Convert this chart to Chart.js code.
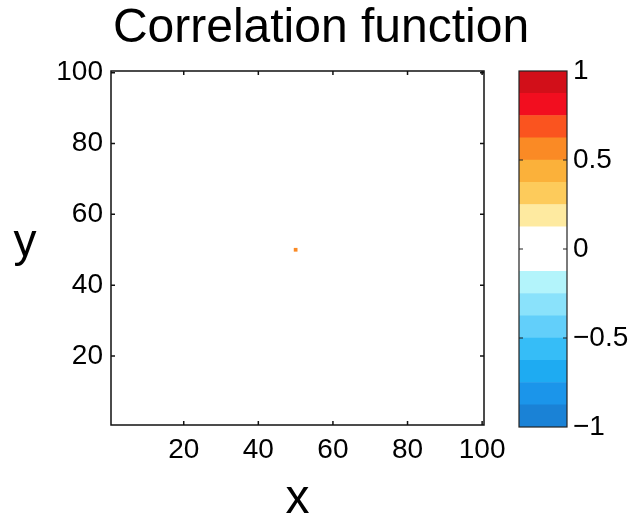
<!DOCTYPE html>
<html>
<head>
<meta charset="utf-8">
<script src="https://cdn.jsdelivr.net/npm/chart.js@4.4.0/dist/chart.umd.min.js"></script>
<style>
  html, body { margin: 0; padding: 0; background: #fff; overflow: hidden; }
  #wrap { position: relative; width: 632px; height: 515px; }
  #main { position: absolute; left: 0; top: 0; }
  #bar { position: absolute; left: 505px; top: 0; }
</style>
</head>
<body>
<div id="wrap">
  <canvas id="main" width="632" height="515"></canvas>
  <canvas id="bar" width="127" height="515"></canvas>
</div>
<script>
// data
const xTicks = [20, 40, 60, 80, 100];
const yTicks = [20, 40, 60, 80, 100];
const cellX = [50];
const cellY = [50];
const cellV = [0.6];
const levels = [-1, -0.875, -0.75, -0.625, -0.5, -0.375, -0.25, -0.125, 0,
  0.125, 0.25, 0.375, 0.5, 0.625, 0.75, 0.875, 1];
const levelColors = ['#1a82d6', '#1b95ea', '#1eabf2', '#36bdf7', '#62cffa', '#8ae2fb', '#b3f4fb', '#ffffff',
  '#ffffff', '#feeaa0', '#fdcb5b', '#fbb13a', '#fa8a25', '#fa541f', '#f20e1f', '#d20f19'];
const cbTicks = [-1, -0.5, 0, 0.5, 1];

const family = "'Liberation Sans', Arial, sans-serif";

function colorFor(v) {
  for (let i = 0; i < levelColors.length; i++) {
    if (v <= levels[i + 1]) return levelColors[i];
  }
  return levelColors[levelColors.length - 1];
}

// one matrix cell = 1 unit on the x scale
const cellRadius = ctx => {
  const s = ctx.chart.scales.x;
  return Math.abs(s.getPixelForValue(1) - s.getPixelForValue(0)) / 2 / Math.SQRT1_2;
};

// box round the axes, with inner tick marks on every side
const boxPlugin = {
  id: 'box',
  afterDraw(chart, args, opts) {
    const { ctx, chartArea: a } = chart;
    const L = 4;
    ctx.save();
    ctx.strokeStyle = opts.color || '#000';
    ctx.lineWidth = opts.lineWidth || 1;
    ctx.beginPath();
    (opts.xTicks || []).forEach(v => {
      const p = chart.scales.x.getPixelForValue(v);
      ctx.moveTo(p, a.bottom); ctx.lineTo(p, a.bottom - L);
      ctx.moveTo(p, a.top); ctx.lineTo(p, a.top + L);
    });
    (opts.yTicks || []).forEach(v => {
      const p = chart.scales.y.getPixelForValue(v);
      ctx.moveTo(a.left, p); ctx.lineTo(a.left + L, p);
      ctx.moveTo(a.right, p); ctx.lineTo(a.right - L, p);
    });
    ctx.stroke();
    ctx.strokeRect(a.left, a.top, a.width, a.height);
    ctx.restore();
  }
};

// upright "y" label, as in the original
const yLabelPlugin = {
  id: 'ylabel',
  afterDraw(chart) {
    const { ctx, chartArea: a } = chart;
    ctx.save();
    ctx.fillStyle = '#000';
    ctx.font = '46px ' + family;
    ctx.textAlign = 'center';
    ctx.textBaseline = 'alphabetic';
    ctx.fillText('y', 25, (a.top + a.bottom) / 2 + 8);
    ctx.restore();
  }
};

new Chart(document.getElementById('main'), {
  type: 'scatter',
  data: {
    datasets: [{
      data: cellX.map((x, i) => ({ x: x, y: cellY[i], v: cellV[i] })),
      pointStyle: 'rect',
      pointRadius: cellRadius,
      pointHoverRadius: cellRadius,
      pointBorderWidth: 0,
      pointBackgroundColor: ctx => colorFor(cellV[ctx.dataIndex]),
    }]
  },
  options: {
    responsive: false,
    animation: false,
    layout: { padding: { left: 10, top: 0, right: 0, bottom: 0 } },
    plugins: {
      legend: { display: false },
      tooltip: { enabled: false },
      title: {
        display: true,
        text: 'Correlation function',
        color: '#000',
        font: { family: family, size: 48, weight: 'normal' },
        padding: { top: 0, bottom: 13.4 }
      },
      box: { xTicks: xTicks, yTicks: yTicks, lineWidth: 1.5, color: '#111' }
    },
    scales: {
      x: {
        type: 'linear',
        min: 0.5,
        max: 100.5,
        afterBuildTicks: s => { s.ticks = xTicks.map(v => ({ value: v })); },
        afterFit: s => { s.height = 90; },
        grid: { display: false, drawTicks: false },
        border: { display: false },
        ticks: { color: '#000', font: { family: family, size: 28 }, padding: 8, maxRotation: 0, autoSkip: false },
        title: { display: true, text: 'x', color: '#000', padding: 0,
          font: { family: family, size: 48, lineHeight: 0.62 } }
      },
      y: {
        type: 'linear',
        min: 0.5,
        max: 100.5,
        afterBuildTicks: s => { s.ticks = yTicks.map(v => ({ value: v })); },
        afterFit: s => { s.width = 101; },
        grid: { display: false, drawTicks: false },
        border: { display: false },
        ticks: { color: '#000', font: { family: family, size: 28 }, padding: 8, autoSkip: false }
      },
      // empty axis that keeps room for the colour bar
      r: {
        type: 'linear',
        position: 'right',
        afterFit: s => { s.width = 148; },
        grid: { display: false, drawTicks: false },
        border: { display: false },
        ticks: { display: false }
      }
    }
  },
  plugins: [boxPlugin, yLabelPlugin]
});

// colour bar
new Chart(document.getElementById('bar'), {
  type: 'bar',
  data: {
    labels: [''],
    datasets: levelColors.map((c, i) => ({
      data: [[levels[i], levels[i + 1]]],
      backgroundColor: c,
      borderWidth: 0,
      grouped: false,
      barPercentage: 1,
      categoryPercentage: 1
    }))
  },
  options: {
    responsive: false,
    animation: false,
    layout: { padding: { left: 14, top: 71, right: 0, bottom: 88 } },
    plugins: {
      legend: { display: false },
      tooltip: { enabled: false },
      box: { yTicks: [-0.5, 0, 0.5], lineWidth: 1.2, color: '#222' }
    },
    scales: {
      x: { display: false },
      y: {
        position: 'right',
        min: -1,
        max: 1,
        afterBuildTicks: s => { s.ticks = cbTicks.map(v => ({ value: v })); },
        afterFit: s => { s.width = 65; },
        grid: { display: false, drawTicks: false },
        border: { display: false },
        ticks: {
          color: '#000', font: { family: family, size: 28 }, padding: 6, autoSkip: false,
          callback: v => String(v).replace('-', '\u2212')
        }
      }
    }
  },
  plugins: [boxPlugin]
});
</script>
</body>
</html>
